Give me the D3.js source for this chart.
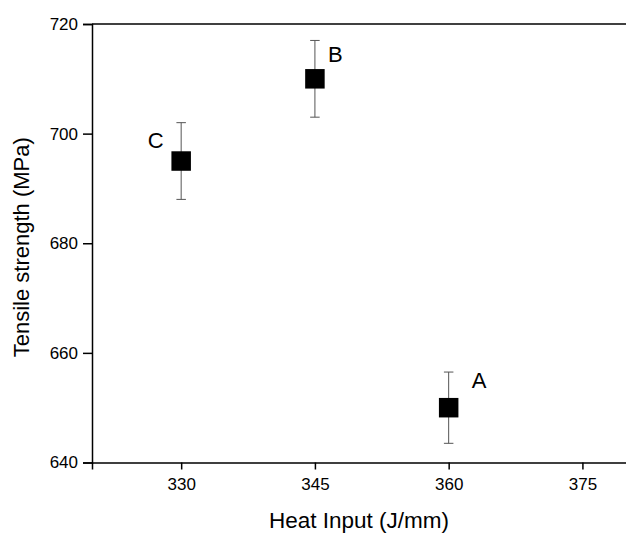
<!DOCTYPE html>
<html>
<head>
<meta charset="utf-8">
<script src="https://cdn.jsdelivr.net/npm/d3@7"></script>
<style>
  body { margin: 0; background: #fff; }
  svg { display: block; font-family: "Liberation Sans", Arial, sans-serif; }
</style>
</head>
<body>
<svg width="626" height="535"></svg>
<script>
// data
const labels = ["C", "B", "A"];
const heatInput = [330, 345, 360];
const strength = [695, 710, 650];
const errPlus = [7, 7, 6.5];
const errMinus = [7, 7, 6.5];
const xTicks = [330, 345, 360, 375];
const yTicks = [640, 660, 680, 700, 720];

const svg = d3.select("svg");
const width = +svg.attr("width");
const height = +svg.attr("height");

const margin = { top: 24, right: -1, bottom: 72.5, left: 92 };

const x = d3.scaleLinear().domain([320, 380]).range([margin.left, width - margin.right]);
const y = d3.scaleLinear().domain([640, 720]).range([height - margin.bottom, margin.top]);

const ink = "#000";

// x axis
const gx = svg.append("g")
  .attr("transform", `translate(0,${y(640)})`)
  .call(d3.axisBottom(x).tickValues(xTicks).tickSizeOuter(0).tickSize(7).tickPadding(8));

// y axis
const gy = svg.append("g")
  .attr("transform", `translate(${x(320)},0)`)
  .call(d3.axisLeft(y).tickValues(yTicks).tickSizeOuter(0).tickSize(9).tickPadding(5));

[gx, gy].forEach(g => {
  g.selectAll("path, line").attr("stroke", ink).attr("stroke-width", 1.5);
  g.selectAll("text")
    .attr("fill", ink)
    .attr("font-size", "17px")
    .attr("font-family", "Liberation Sans, Arial, sans-serif");
});

// top frame line
svg.append("line")
  .attr("x1", x(320)).attr("x2", width)
  .attr("y1", y(720)).attr("y2", y(720))
  .attr("stroke", ink).attr("stroke-width", 1.5);

// axis titles
svg.append("text")
  .attr("x", (x(320) + width) / 2)
  .attr("y", 528)
  .attr("text-anchor", "middle")
  .attr("font-size", "22.5px")
  .attr("fill", ink)
  .text("Heat Input (J/mm)");

svg.append("text")
  .attr("transform", `translate(29,${(y(640) + y(720)) / 2 + 4}) rotate(-90)`)
  .attr("text-anchor", "middle")
  .attr("font-size", "22px")
  .attr("fill", ink)
  .text("Tensile strength (MPa)");

const points = labels.map((l, i) => ({
  label: l, x: heatInput[i], y: strength[i], hi: strength[i] + errPlus[i], lo: strength[i] - errMinus[i]
}));

// error bars
const capW = 9.5;
const eb = svg.append("g").attr("stroke", "#555").attr("stroke-width", 1);
points.forEach(d => {
  eb.append("line").attr("x1", x(d.x)).attr("x2", x(d.x)).attr("y1", y(d.hi)).attr("y2", y(d.lo));
  eb.append("line").attr("x1", x(d.x) - capW / 2).attr("x2", x(d.x) + capW / 2).attr("y1", y(d.hi)).attr("y2", y(d.hi));
  eb.append("line").attr("x1", x(d.x) - capW / 2).attr("x2", x(d.x) + capW / 2).attr("y1", y(d.lo)).attr("y2", y(d.lo));
});

// square markers
const size = 19.5;
svg.selectAll(".pt")
  .data(points)
  .enter()
  .append("rect")
  .attr("class", "pt")
  .attr("x", d => x(d.x) - size / 2)
  .attr("y", d => y(d.y) - size / 2)
  .attr("width", size)
  .attr("height", size)
  .attr("fill", "#000");

// point labels (offset from the marker centre)
const labelOffset = { A: [23, -19.5, "start"], B: [13, -17, "start"], C: [-17.5, -13.5, "end"] };
svg.selectAll(".pt-label")
  .data(points)
  .enter()
  .append("text")
  .attr("class", "pt-label")
  .attr("x", d => x(d.x) + labelOffset[d.label][0])
  .attr("y", d => y(d.y) + labelOffset[d.label][1])
  .attr("text-anchor", d => labelOffset[d.label][2])
  .attr("font-size", "22px")
  .attr("fill", ink)
  .text(d => d.label);
</script>
</body>
</html>
